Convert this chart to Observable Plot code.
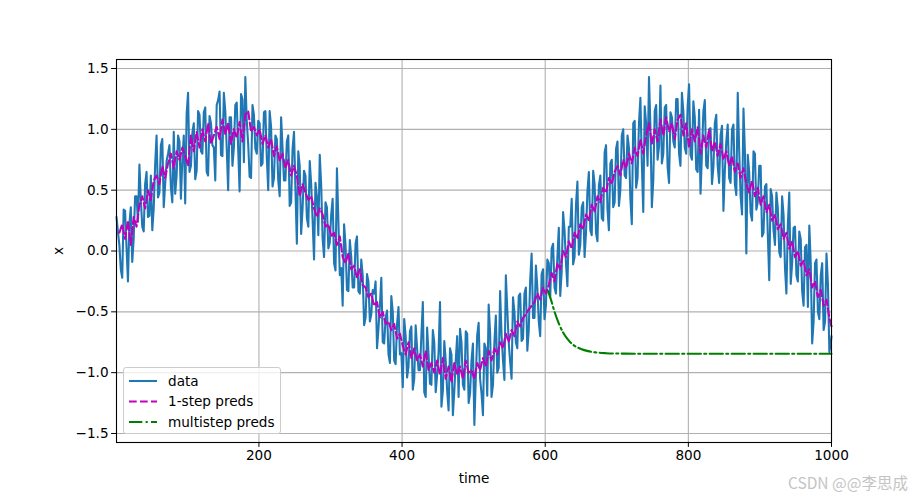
<!DOCTYPE html>
<html>
<head>
<meta charset="utf-8">
<script src="https://cdn.jsdelivr.net/npm/d3@7"></script>
<script src="https://cdn.jsdelivr.net/npm/@observablehq/plot@0.6"></script>
<style>
  body { margin: 0; background: #fff; }
  #wrap { position: relative; width: 924px; height: 497px; font-family: "DejaVu Sans", sans-serif; }
  #legend { position: absolute; left: 123px; top: 367px; width: 158px; height: 67px;
    background: rgba(255,255,255,0.8); border: 1px solid #cccccc; border-radius: 3px; box-sizing: border-box; }
  #legend svg { position: absolute; left: 0; top: 0; }
  #watermark { position: absolute; left: 788px; top: 471px; font-family: "Noto Sans CJK SC", "DejaVu Sans", sans-serif;
    font-size: 15.5px; color: #c4c4c4; white-space: nowrap; }
</style>
</head>
<body>
<div id="wrap">
  <div id="chart"></div>
  <div id="legend"></div>
  <div id="watermark">CSDN @@李思成</div>
</div>
<script>
// Observed noisy series x at t = 1, 5, 9, ..., 997, 1000
const dataValuesA = [
  0.28, 0.05, -0.22, 0.33, -0.25, 0.36, 0.10, 0.45, 0.71, 0.20,
  0.55, 0.28, 0.62, 0.35, 0.95, 0.48, 0.92, 0.55, 0.80, 0.52,
  0.98, 0.62, 0.90, 0.75, 0.39, 1.30, 0.70, 1.05, 0.66, 1.12,
  0.80, 1.18, 0.62, 1.05, 0.85, 1.20, 1.31, 0.78, 1.15, 0.50,
  1.10, 0.85, 1.22, 0.49, 1.25, 1.43, 0.88, 0.60, 1.12, 0.80,
  1.05, 0.72, 1.15, 0.50, 1.02, 0.60, 0.92, 0.45, 0.85, 0.58,
  0.95, 0.40, 0.98, 0.06, 0.70, 0.35, 0.62, 0.20, 0.55, -0.07,
  0.45, 0.79, 0.10, 0.40, 0.02, 0.30, -0.10, 0.68, -0.20, -0.45,
  0.05, -0.33, -0.05, -0.30, 0.12, -0.35, -0.20, -0.55, -0.25, -0.52,
  -0.35, -0.80, -0.45, -0.75, -0.55, -0.85, -0.37, -0.90, -0.60, -0.85,
  -1.12, -0.70, -0.95, -0.62, -1.05, -0.80, -0.98, -0.42, -1.20, -0.85,
  -1.10, -0.75, -1.02, -0.42, -1.15, -0.90, -1.31, -0.85, -1.15, -0.70,
  -0.64, -1.10, -0.66, -1.25, -0.90, -1.43, -0.69, -1.05, -1.35, -0.80,
  -0.44, -1.20, -0.75, -1.00, -0.33, -0.90, -0.20, -0.75, -1.05, -0.50,
  -0.80, -0.35, -0.72, -0.30, -0.65, -0.02, -0.55, -0.30, -0.70, -0.15,
  -0.45, -0.10, 0.02, -0.30, -0.05, -0.37, 0.32, -0.10, 0.20, 0.43,
  -0.05, 0.57, 0.05, 0.40, 0.15, 0.65, 0.13, 0.55, 0.08, 0.62,
  0.25, 0.87, 0.17, 0.75, 0.40, 0.90, 0.50, 1.00, 0.60, 0.85,
  0.22, 1.07, 0.60, 1.26, 0.32, 1.05, 1.43, 0.36, 1.15, 0.75,
  1.36, 0.80, 1.20, 0.56, 1.10, 0.85, 1.25, 0.70, 1.15, 0.80,
  1.37, 0.75, 1.10, 0.65, 0.47, 1.15, 0.70, 1.00, 0.55, 1.05,
  0.70, 0.95, 0.33, 0.90, 0.60, 1.00, 0.55, 1.30, 0.45, 1.17,
  -0.02, 0.65, 0.25, 0.80, 0.40, 0.70, 0.15, 0.55, -0.24, 0.45,
  0.05, 0.35, -0.05, 0.30, -0.35, 0.48, -0.10, 0.20, -0.25, 0.10,
  -0.45, 0.05, 0.21, -0.76, -0.10, -0.50, -0.20, -0.65, -0.02, -0.83,
  -0.70
];

// Observed noisy series x at t = 3, 7, 11, ..., 999
const dataValuesB = [
  0.16, -0.15, 0.34, 0.03, 0.22, -0.09, 0.45, 0.24, 0.42, 0.16,
  0.65, 0.29, 0.17, 0.71, 0.44, 0.87, 0.36, 0.74, 0.87, 0.40,
  0.47, 0.95, 0.43, 0.95, 1.13, 0.65, 0.97, 0.59, 1.15, 0.82,
  1.14, 0.65, 1.11, 0.87, 0.58, 1.24, 0.79, 1.30, 0.85, 1.10,
  0.70, 1.20, 0.84, 1.29, 0.73, 1.07, 0.61, 1.20, 0.84, 1.07,
  0.70, 1.14, 0.77, 1.15, 0.53, 0.95, 0.58, 1.10, 0.58, 0.90,
  0.37, 0.84, 0.51, 0.82, 0.14, 0.66, 0.27, 0.74, 0.25, 0.56,
  0.13, 0.54, -0.05, 0.36, 0.07, 0.43, -0.16, 0.25, -0.14, 0.22,
  -0.32, 0.09, -0.30, 0.06, -0.33, -0.07, -0.61, -0.19, -0.58, -0.32,
  -0.25, -0.64, -0.22, -0.76, -0.49, -0.92, -0.50, -0.93, -0.46, -0.84,
  -0.56, -1.04, -0.66, -1.14, -0.61, -0.98, -0.69, -1.16, -0.63, -1.09,
  -0.65, -1.16, -0.83, -1.28, -0.74, -1.15, -0.80, -1.35, -0.90, -1.20,
  -0.75, -1.14, -0.68, -1.17, -0.76, -1.05, -0.59, -1.17, -0.76, -1.19,
  -0.67, -1.10, -0.53, -0.96, -0.69, -1.06, -0.48, -0.91, -0.38, -0.75,
  -0.37, -0.74, -0.35, -0.82, -0.24, -0.55, -0.12, -0.58, -0.19, -0.56,
  -0.07, -0.38, 0.06, -0.35, 0.19, -0.17, 0.17, -0.29, 0.20, -0.11,
  0.38, -0.03, 0.36, -0.05, 0.49, 0.17, 0.66, 0.15, 0.54, 0.27,
  0.81, 0.34, 0.72, 0.36, 0.84, 0.37, 0.95, 0.62, 0.95, 0.43,
  1.05, 0.52, 1.05, 0.72, 1.19, 0.70, 1.02, 0.58, 1.20, 0.86,
  0.72, 1.18, 0.69, 1.14, 0.90, 1.25, 0.80, 1.30, 0.85, 1.19,
  0.79, 1.23, 0.67, 1.16, 0.80, 1.24, 0.68, 1.01, 0.69, 1.12,
  0.56, 1.03, 0.66, 1.04, 0.56, 1.04, 0.46, 0.83, 0.30, 0.82,
  0.79, 0.31, 0.82, 0.34, 0.70, 0.12, 0.53, 0.14, 0.51, 0.17,
  0.48, -0.01, 0.45, -0.14, 0.22, -0.27, 0.19, -0.20, 0.16, -0.33,
  0.03, -0.46, -0.10, -0.58, -0.07, -0.56, -0.10, -0.58, -0.27, -0.76
];

// 1-step predictions at t = 5, 9, ..., 997, 1000
const oneStepValues = [
  0.15, 0.22, 0.10, 0.25, 0.05, 0.28, 0.20, 0.38, 0.45, 0.35,
  0.50, 0.42, 0.58, 0.62, 0.55, 0.70, 0.60, 0.72, 0.80, 0.68,
  0.82, 0.75, 0.85, 0.78, 0.70, 0.95, 0.82, 0.98, 0.85, 1.00,
  0.90, 1.05, 0.88, 0.95, 1.02, 0.92, 1.08, 0.96, 1.05, 0.88,
  1.00, 0.93, 1.06, 0.90, 1.12, 1.15, 0.98, 1.02, 0.95, 1.00,
  0.88, 0.95, 0.85, 0.92, 0.78, 0.86, 0.74, 0.80, 0.68, 0.75,
  0.62, 0.70, 0.62, 0.45, 0.55, 0.48, 0.42, 0.45, 0.35, 0.28,
  0.35, 0.30, 0.20, 0.22, 0.12, 0.15, 0.05, 0.12, -0.05, -0.10,
  -0.02, -0.15, -0.12, -0.22, -0.15, -0.28, -0.30, -0.38, -0.35, -0.45,
  -0.42, -0.55, -0.50, -0.60, -0.58, -0.65, -0.60, -0.72, -0.68, -0.78,
  -0.85, -0.75, -0.88, -0.80, -0.90, -0.85, -0.95, -0.82, -0.98, -0.92,
  -1.00, -0.90, -1.02, -0.88, -1.05, -0.95, -1.08, -0.92, -1.02, -0.95,
  -1.05, -0.90, -1.00, -0.98, -1.05, -0.92, -0.98, -0.88, -0.95, -0.82,
  -0.90, -0.80, -0.85, -0.75, -0.80, -0.68, -0.75, -0.65, -0.70, -0.58,
  -0.62, -0.55, -0.52, -0.48, -0.45, -0.42, -0.35, -0.40, -0.30, -0.35,
  -0.28, -0.18, -0.25, -0.10, -0.15, 0.00, -0.05, 0.08, 0.02, 0.15,
  0.10, 0.22, 0.18, 0.30, 0.25, 0.38, 0.32, 0.45, 0.40, 0.52,
  0.48, 0.60, 0.55, 0.65, 0.70, 0.62, 0.75, 0.68, 0.80, 0.72,
  0.85, 0.78, 0.92, 0.80, 0.95, 1.05, 0.88, 1.00, 0.90, 1.08,
  0.95, 1.10, 0.98, 1.05, 0.92, 1.08, 1.12, 0.95, 1.05, 0.85,
  1.00, 0.90, 1.02, 0.80, 0.95, 0.85, 1.00, 0.82, 0.90, 0.78,
  0.88, 0.75, 0.82, 0.70, 0.78, 0.65, 0.72, 0.60, 0.68, 0.55,
  0.48, 0.58, 0.45, 0.52, 0.38, 0.45, 0.32, 0.38, 0.25, 0.30,
  0.18, 0.22, 0.10, 0.15, 0.02, 0.08, -0.05, 0.00, -0.12, -0.08,
  -0.20, -0.15, -0.30, -0.25, -0.38, -0.32, -0.45, -0.40, -0.55, -0.62
];

// Multistep predictions (starting at t = 604)
const multiTimes  = [604, 608, 612, 616, 620, 625, 630, 635, 640, 650, 660, 670, 685, 700, 800, 1000];
const multiValues = [-0.33, -0.40, -0.48, -0.55, -0.61, -0.67, -0.715, -0.75, -0.775, -0.805, -0.823, -0.833, -0.84, -0.843, -0.845, -0.845];

const xTicks = [200, 400, 600, 800, 1000];
const yTicks = [-1.5, -1.0, -0.5, 0.0, 0.5, 1.0, 1.5];

const seriesNames = ["data", "1-step preds", "multistep preds"];
const seriesColors = ["#1f77b4", "#bf00bf", "#008000"];
const seriesDash = [null, "7.7,3.3", "13.3,3.3,2.1,3.3"];

const dataRows = d3.sort([
  ...dataValuesA.map((v, i) => ({t: Math.min(1 + 4 * i, 1000), v})),
  ...dataValuesB.map((v, i) => ({t: 3 + 4 * i, v}))
], d => d.t);
const oneRows = oneStepValues.map((v, i) => ({t: Math.min(5 + 4 * i, 1000), v}));
const multiRows = multiTimes.map((t, i) => ({t, v: multiValues[i]}));

const fontSize = 13.6;
const lw = 2.08;

const chart = Plot.plot({
  width: 924,
  height: 497,
  marginLeft: 116,
  marginRight: 93,
  marginTop: 59,
  marginBottom: 55,
  style: {fontFamily: "DejaVu Sans, sans-serif", fontSize: fontSize + "px", background: "white", color: "black"},
  x: {domain: [1, 1000]},
  y: {domain: [-1.574, 1.574]},
  marks: [
    Plot.gridX(xTicks, {stroke: "#b0b0b0", strokeOpacity: 1, strokeWidth: 1.1}),
    Plot.gridY(yTicks, {stroke: "#b0b0b0", strokeOpacity: 1, strokeWidth: 1.1}),
    Plot.line(dataRows, {x: "t", y: "v", stroke: seriesColors[0], strokeWidth: lw}),
    Plot.line(oneRows, {x: "t", y: "v", stroke: seriesColors[1], strokeWidth: lw, strokeDasharray: seriesDash[1]}),
    Plot.line(multiRows, {x: "t", y: "v", stroke: seriesColors[2], strokeWidth: lw, strokeDasharray: seriesDash[2], curve: "monotone-x"}),
    Plot.frame({stroke: "black", strokeWidth: 1.1}),
    Plot.axisX(xTicks, {tickSize: 4.9, tickPadding: 3, fontSize, tickFormat: d3.format("d"),
      label: "time", labelAnchor: "center", labelArrow: "none", labelOffset: 40}),
    Plot.axisY(yTicks, {tickSize: 4.9, tickPadding: 3, fontSize, tickFormat: d3.format(".1f"),
      label: "x", labelAnchor: "center", labelArrow: "none", labelOffset: 63})
  ]
});
document.getElementById("chart").appendChild(chart);

// Legend (HTML overlay, not a data mark)
const leg = d3.select("#legend").append("svg").attr("width", 158).attr("height", 67);
seriesNames.forEach((name, i) => {
  const cy = 13 + i * 20.5;
  leg.append("line").attr("x1", 5).attr("x2", 33).attr("y1", cy).attr("y2", cy)
    .attr("stroke", seriesColors[i]).attr("stroke-width", lw)
    .attr("stroke-dasharray", seriesDash[i]);
  leg.append("text").attr("x", 44).attr("y", cy).attr("dy", "0.35em")
    .attr("font-family", "DejaVu Sans, sans-serif").attr("font-size", fontSize)
    .attr("fill", "#000").text(name);
});
</script>
</body>
</html>
